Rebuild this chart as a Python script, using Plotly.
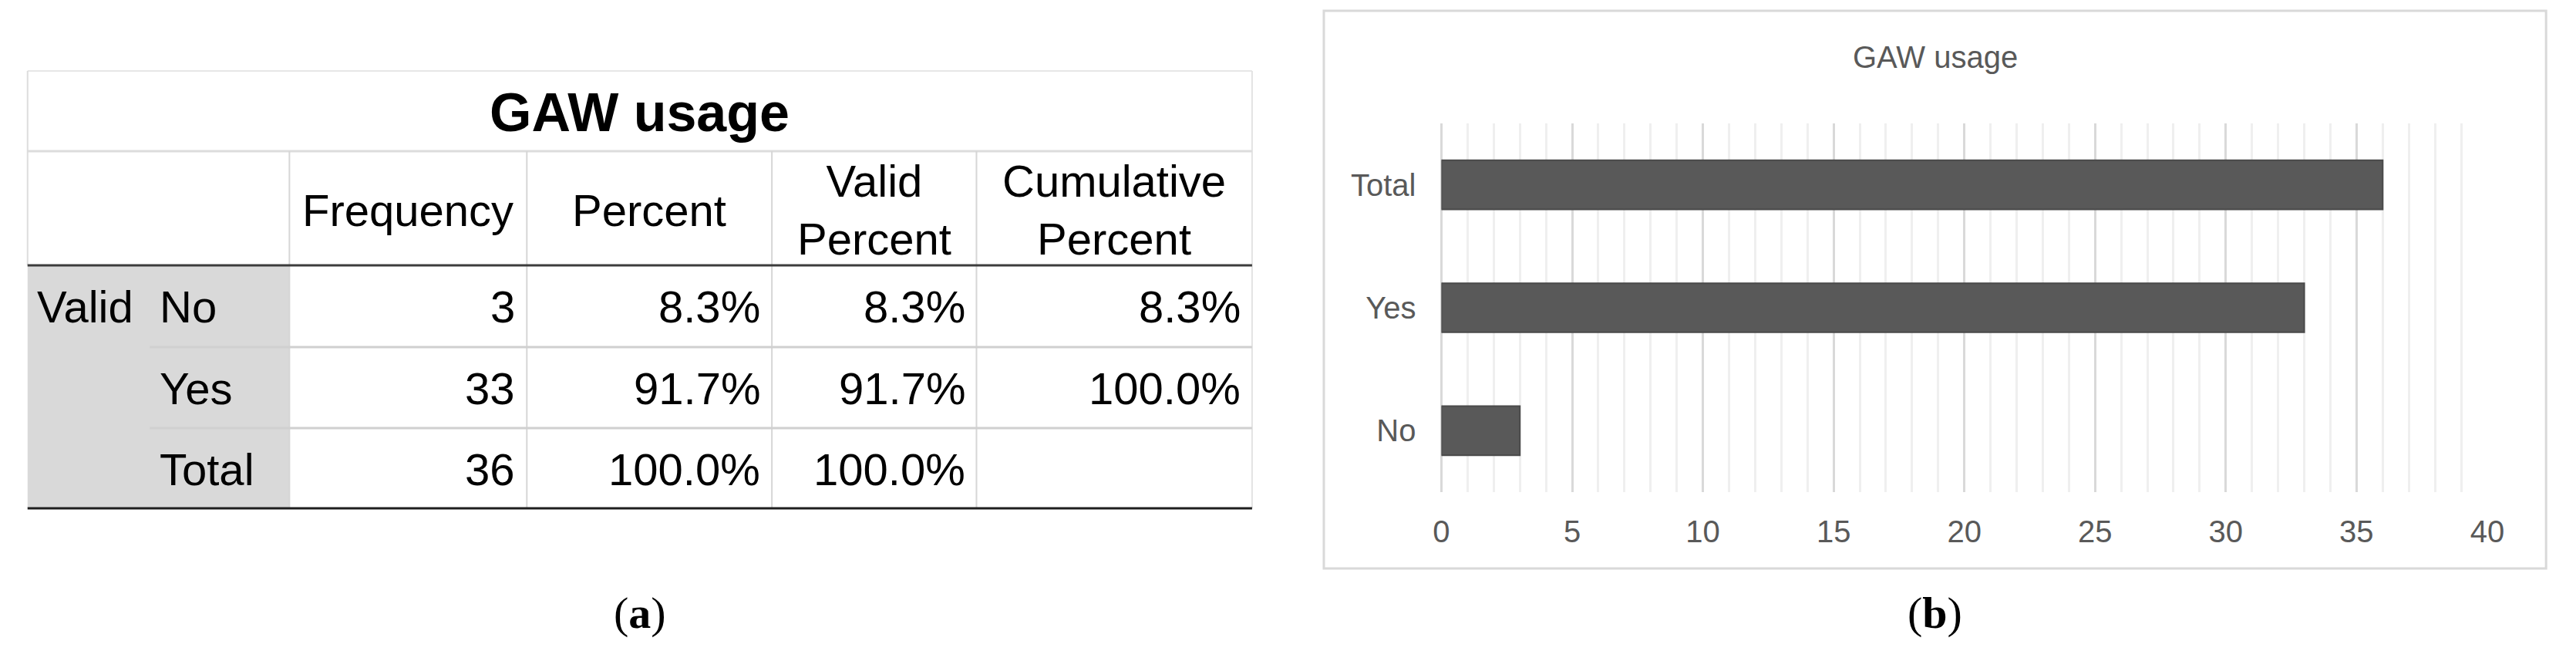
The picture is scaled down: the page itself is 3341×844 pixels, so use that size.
import plotly.graph_objects as go

# ---------------- data ----------------
categories = ["No", "Yes", "Total"]
frequency = [3, 33, 36]
percent = [8.3, 91.7, 100.0]
valid_percent = [8.3, 91.7, 100.0]
cumulative_percent = [8.3, 100.0, None]
header_labels = ["Frequency", "Percent", "Valid<br>Percent", "Cumulative<br>Percent"]
x_ticks = [0, 5, 10, 15, 20, 25, 30, 35, 40]
table_title = "GAW usage"
chart_title = "GAW usage"
stub_group = "Valid"
panel_labels = ["(<b>a</b>)", "(<b>b</b>)"]

# ---------------- layout constants (pixels) ----------------
W, H = 3341, 844


def px(x):
    return x / W


def py(y):
    return 1 - y / H


col_edges = [25, 368, 679, 1000, 1268, 1629]
row_edges = [92, 196, 344, 450, 555, 659]
row_text_y = [398, 503, 608]
TFONT = "Liberation Sans, Arial, sans-serif"
GRAY_TXT = "#595959"

fig = go.Figure()

# ---------------- chart (b) ----------------
fig.add_trace(go.Bar(
    x=frequency, y=categories, orientation="h",
    marker=dict(color="#595959", line=dict(color="#4a4a4a", width=2)),
    hoverinfo="skip", showlegend=False,
))

fig.update_layout(
    width=W, height=H, autosize=False,
    margin=dict(l=0, r=0, t=0, b=0),
    paper_bgcolor="white", plot_bgcolor="white",
    bargap=0.6,
    xaxis=dict(
        domain=[px(1877), px(3247)], range=[0, 40],
        tickmode="array", tickvals=x_ticks,
        showgrid=True, gridcolor="#d9d9d9", gridwidth=3,
        minor=dict(dtick=1, tick0=0, showgrid=True, gridcolor="#efefef", gridwidth=3),
        zeroline=True, zerolinecolor="#d9d9d9", zerolinewidth=3,
        showline=False, ticks="",
        tickfont=dict(family=TFONT, size=40, color=GRAY_TXT),
        ticklabelstandoff=24, fixedrange=True,
    ),
    yaxis=dict(
        domain=[py(638), py(160)],
        categoryorder="array", categoryarray=categories,
        showgrid=False, zeroline=False, showline=False, ticks="",
        tickfont=dict(family=TFONT, size=40, color=GRAY_TXT),
        ticklabelstandoff=32, fixedrange=True,
    ),
)

shapes = []
annotations = []

# chart border
shapes.append(dict(type="rect", xref="paper", yref="paper",
                   x0=px(1723), x1=px(3324), y0=py(737), y1=py(14),
                   line=dict(color="#d9d9d9", width=3), layer="below"))
annotations.append(dict(text=chart_title, xref="paper", yref="paper",
                        x=px(2524), y=py(74), xanchor="center", yanchor="middle",
                        showarrow=False, font=dict(family=TFONT, size=40, color=GRAY_TXT)))

# ---------------- table (a) ----------------
L, R = col_edges[0], col_edges[-1]
# stub gray area
shapes.append(dict(type="rect", xref="paper", yref="paper",
                   x0=px(L), x1=px(col_edges[1]), y0=py(row_edges[5]), y1=py(row_edges[2]),
                   fillcolor="#d9d9d9", line=dict(width=0), layer="below"))


def hline(y, x0, x1, color, width):
    shapes.append(dict(type="line", xref="paper", yref="paper",
                       x0=px(x0), x1=px(x1), y0=py(y), y1=py(y),
                       line=dict(color=color, width=width)))


def vline(x, y0, y1, color, width):
    shapes.append(dict(type="line", xref="paper", yref="paper",
                       x0=px(x), x1=px(x), y0=py(y0), y1=py(y1),
                       line=dict(color=color, width=width)))


hline(row_edges[0], L, R, "#e6e6e6", 2)
vline(L, row_edges[0], row_edges[2], "#dddddd", 2)
vline(R, row_edges[0], row_edges[5], "#e3e3e3", 2)
hline(row_edges[1], L, R, "#dcdcdc", 3)
for cx in col_edges[1:-1]:
    vline(cx, row_edges[1], row_edges[5], "#d6d6d6", 2)
hline(row_edges[3], 185, R, "#d0d0d0", 3)
hline(row_edges[4], 185, R, "#d0d0d0", 3)
hline(row_edges[2], L, R, "#3c3c3c", 3)
hline(row_edges[5], L, R, "#1e1e1e", 3)

# title
annotations.append(dict(text="<b>%s</b>" % table_title, xref="paper", yref="paper",
                        x=px((L + R) / 2), y=py(146), xanchor="center", yanchor="middle",
                        showarrow=False, font=dict(family=TFONT, size=70, color="black")))
# headers
head_y = (row_edges[1] + row_edges[2]) / 2
for i, lab in enumerate(header_labels):
    cx = (col_edges[i + 1] + col_edges[i + 2]) / 2
    annotations.append(dict(text=lab, xref="paper", yref="paper",
                            x=px(cx), y=py(head_y + 2), xanchor="center", yanchor="middle",
                            showarrow=False, font=dict(family=TFONT, size=58, color="black")))
# stub
annotations.append(dict(text=stub_group, xref="paper", yref="paper",
                        x=px(35), y=py(row_text_y[0]), xanchor="left", yanchor="middle",
                        showarrow=False, font=dict(family=TFONT, size=58, color="black")))
for r, cat in enumerate(categories):
    annotations.append(dict(text=cat, xref="paper", yref="paper",
                            x=px(196), y=py(row_text_y[r]), xanchor="left", yanchor="middle",
                            showarrow=False, font=dict(family=TFONT, size=58, color="black")))


def fmt_pct(v):
    return "" if v is None else "%.1f%%" % v


columns = [
    [str(v) for v in frequency],
    [fmt_pct(v) for v in percent],
    [fmt_pct(v) for v in valid_percent],
    [fmt_pct(v) for v in cumulative_percent],
]
for c, col in enumerate(columns):
    xr = col_edges[c + 2] - 13
    for r, txt in enumerate(col):
        if not txt:
            continue
        annotations.append(dict(text=txt, xref="paper", yref="paper",
                                x=px(xr), y=py(row_text_y[r]), xanchor="right", yanchor="middle",
                                showarrow=False, font=dict(family=TFONT, size=58, color="black")))

# panel labels
for lab, cx in zip(panel_labels, [827, 2523]):
    annotations.append(dict(text=lab, xref="paper", yref="paper",
                            x=px(cx), y=py(794), xanchor="center", yanchor="middle",
                            showarrow=False,
                            font=dict(family="Liberation Serif, Times New Roman, serif", size=58, color="black")))

fig.update_layout(shapes=shapes, annotations=annotations)

fig.write_html("out.html", config={"displayModeBar": False, "staticPlot": True},
               post_script="document.body.style.margin='0';document.body.style.overflow='hidden';")
